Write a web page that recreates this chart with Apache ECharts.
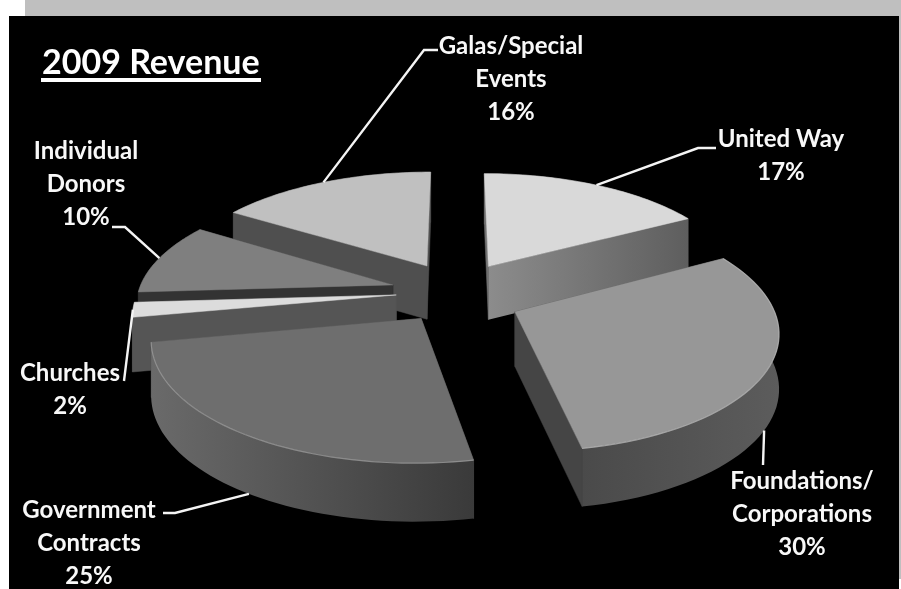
<!DOCTYPE html>
<html><head><meta charset="utf-8"><style>html,body{margin:0;padding:0;background:#fff}#c{width:901px;height:589px}</style>
<script src="https://cdn.jsdelivr.net/npm/echarts@6/dist/echarts.min.js"></script></head>
<body><div id="c"></div><script>
const categories = ['United Way','Foundations/\nCorporations','Government\nContracts','Churches','Individual\nDonors','Galas/Special\nEvents'];
const values = [17,30,25,2,10,16];

const FONT='Lato, Carlito, sans-serif';
const grad=(a,b)=>({type:'linear',x:0,y:0,x2:1,y2:0,colorStops:[{offset:0,color:a},{offset:1,color:b}]});
const styles = [
 {top:'#d9d9d9',arc:'#666',cut0:'#707070',cut1:grad('#8c8c8c','#5e5e5e'),order:1,back:true,ex:57,ey:62,rs:.985},
 {top:'#979797',arc:grad('#4a4a4a','#5c5c5c'),cut0:'#444',cut1:'#454545',order:4,rim:'rgba(200,200,200,.55)',ex:55,ey:84,rs:.98},
 {top:'#6e6e6e',arc:grad('#6a6a6a','#3a3a3a'),cut0:'#4c4c4c',cut1:'#4c4c4c',order:5,rim:'rgba(170,170,170,.6)',ex:52,ey:58,rs:.995},
 {top:'#dcdcdc',arc:'#555',cut0:'#555',cut1:'#545454',order:3,back:true,ex:52,ey:30,rs:1},
 {top:'#7f7f7f',arc:'#333',cut0:'#333',cut1:'#333',order:2,back:true,ex:57,ey:64,rs:.985},
 {top:'#c0c0c0',arc:'#4f4f4f',cut0:'#4f4f4f',cut1:'#505050',order:0,back:true,ex:54,ey:62,rs:1}
];
const labelLayout = [
 {x:781,y:156,z:0,da:0,via:[[698,148],[716,148]]},
 {x:802,y:514,z:1,da:4,via:[[763,465]]},
 {x:89,y:543,z:1,da:-1,via:[[175,513],[163,513]]},
 {x:70,y:390,z:0,da:0,via:[[124,381]]},
 {x:86,y:184,z:0,da:0,via:[[125,227],[112,227]]},
 {x:511,y:79,z:0,da:0,via:[[424,50],[438,50]]}
];
// projection of the tilted pie
const P={cx:456,cy:293,R:224,fx:1.155,q:.515,p:.000666,h:54};
function project(X,Y,z){const s=1/(1+P.p*Y);return [P.cx+P.fx*X*s, P.cy-P.q*Y*s+(z||0)*P.h*Math.pow(s,.4)];}
const total=values.reduce((a,b)=>a+b,0);
let acc=0;const angles=values.map(v=>{const a0=acc/total*2*Math.PI;acc+=v;return [a0,acc/total*2*Math.PI];});
function sliceOrigin(i){const mid=(angles[i][0]+angles[i][1])/2;return [styles[i].ex*Math.sin(mid),styles[i].ey*Math.cos(mid)];}
function slicePts(i,z){
 const [a0,a1]=angles[i],[ox,oy]=sliceOrigin(i),r=P.R*styles[i].rs;
 const arc=[];const n=48;
 for(let k=0;k<=n;k++){const a=a0+(a1-a0)*k/n;arc.push(project(ox+r*Math.sin(a),oy+r*Math.cos(a),z));}
 return {apex:project(ox,oy,z),arc};
}
function poly(points,fill,z2){return {type:'polygon',shape:{points},style:{fill,stroke:typeof fill==='string'?fill:null,lineWidth:.5},z2,silent:true};}
function renderSlice(params,api){
 const i=api.value(0),st=styles[i],t=slicePts(i,0),b=slicePts(i,1),base=st.order*10,ch=[];
 const c0=poly([t.apex,t.arc[0],b.arc[0],b.apex],st.cut0,base+(st.back?1:0));
 const c1=poly([t.apex,t.arc[t.arc.length-1],b.arc[b.arc.length-1],b.apex],st.cut1,base+(st.back?(i===0?2:0):0));
 const wall=poly(t.arc.concat(b.arc.slice().reverse()),st.arc,st.back?base:base+2);
 ch.push(wall,c0,c1);
 ch.push(poly([t.apex].concat(t.arc),st.top,base+3));
 if(st.rim) ch.push({type:'polyline',shape:{points:t.arc},style:{stroke:st.rim,lineWidth:1.2,fill:null},z2:base+4,silent:true});
 return {type:'group',children:ch};
}
function renderLabel(params,api){
 const i=api.value(0),L=labelLayout[i],mid=(angles[i][0]+angles[i][1])/2+L.da*Math.PI/180,[ox,oy]=sliceOrigin(i),r=P.R*styles[i].rs;
 const a=project(ox+r*Math.sin(mid),oy+r*Math.cos(mid),L.z);
 return {type:'group',children:[
  {type:'polyline',shape:{points:[a].concat(L.via)},style:{stroke:'#f4f4f4',lineWidth:2.4,fill:null},z2:100},
  {type:'text',x:L.x,y:L.y,style:{text:categories[i]+'\n'+values[i]+'%',fill:'#f8f8f8',font:'bold 24px '+FONT,align:'center',verticalAlign:'middle',lineHeight:33},z2:101}
 ]};
}
const drawOrder=values.map((v,i)=>i).sort((a,b)=>styles[a].order-styles[b].order);
const chart=echarts.init(document.getElementById('c'),null,{renderer:'canvas'});
chart.setOption({
 animation:false,backgroundColor:'#fff',
 graphic:[
  {type:'rect',z:-10,shape:{x:25,y:0,width:876,height:16},style:{fill:'#bfbfbf'}},
  {type:'rect',z:-9,shape:{x:9,y:16,width:890,height:573},style:{fill:'#000'}},
  {type:'rect',z:-9,shape:{x:899,y:16,width:2,height:563},style:{fill:'#bfbfbf'}},
  {type:'text',z:10,x:42,y:63,style:{text:'2009 Revenue',fill:'#fff',font:'bold 34px '+FONT,verticalAlign:'middle'}},
  {type:'rect',z:10,shape:{x:41,y:78,width:220,height:4},style:{fill:'#fff'}}
 ],
 series:[
  {type:'custom',coordinateSystem:'none',renderItem:renderSlice,data:drawOrder.map(i=>[i]),silent:true,z:2},
  {type:'custom',coordinateSystem:'none',renderItem:renderLabel,data:values.map((v,i)=>[i]),silent:true,z:3}
 ]
});
</script></body></html>
